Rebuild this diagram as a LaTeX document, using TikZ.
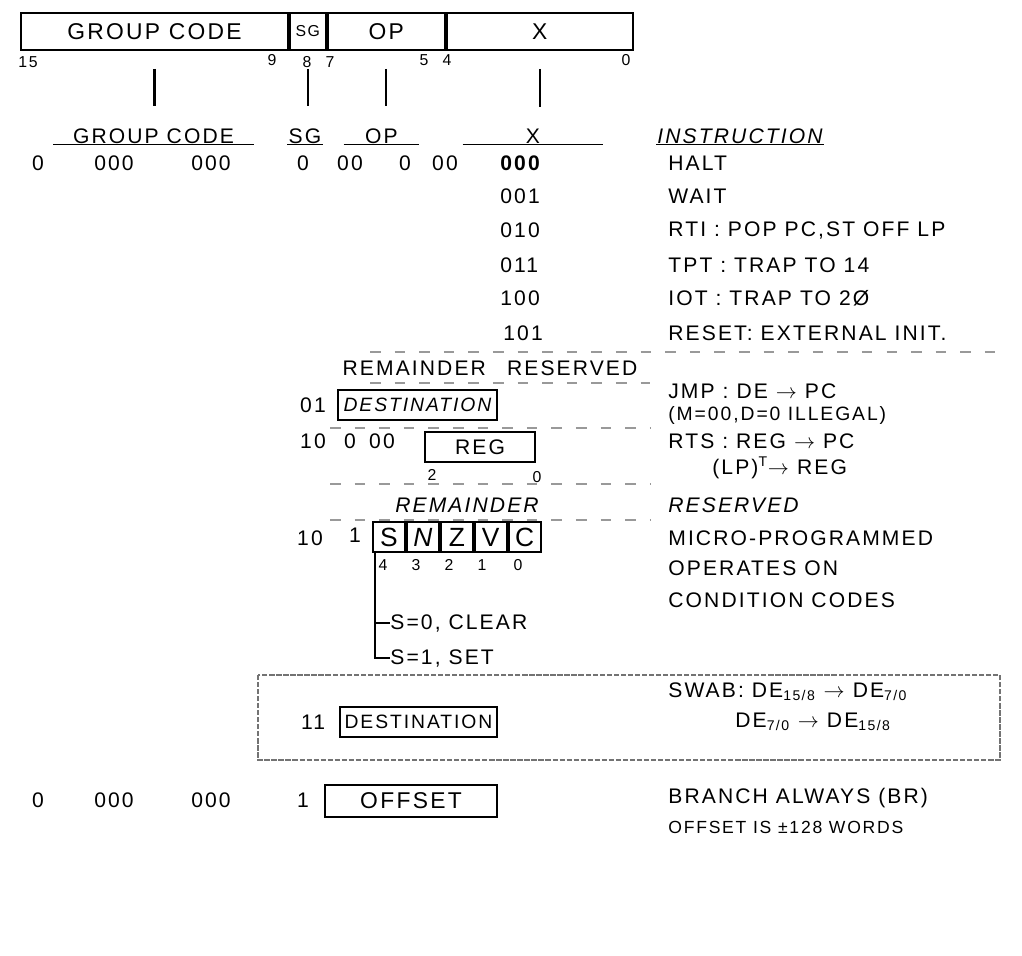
\documentclass[tikz,border=0pt]{standalone}
\usepackage{fontspec}
\setmainfont{Liberation Sans}[LetterSpace=10]
\usetikzlibrary{positioning}

\begin{document}
\begin{tikzpicture}[x=0.02cm, y=-0.02cm,
    field/.style={draw, rectangle, line width=1.1pt, inner sep=0pt, minimum height=0.74cm, font=\fontsize{13}{15}\selectfont},
    box/.style={draw, rectangle, line width=1.1pt, inner sep=0pt, minimum height=0.6cm, font=\fontsize{12}{14}\selectfont},
    bitbox/.style={box, minimum width=0.64cm, font=\fontsize{15}{17}\selectfont},
    bitnum/.style={inner sep=0pt, font=\fontsize{9}{11}\selectfont},
    head/.style={inner sep=0.5pt, font=\fontsize{12}{14}\selectfont},
    val/.style={inner sep=0pt, font=\fontsize{12}{14}\selectfont},
    instr/.style={anchor=west, inner sep=0pt, font=\fontsize{12}{14}\selectfont},
    guide/.style={black!40, line width=0.6pt, dash pattern=on 6pt off 8pt},
    link/.style={line width=1.3pt}
]
\useasboundingbox (0,0) rectangle (1022,956);

% instruction word
\node[field, minimum width=5.34cm, anchor=west] (gcf) at (20,31.5) {GROUP CODE};
\node[field, minimum width=0.72cm, right=0pt of gcf, font=\fontsize{9}{11}\selectfont] (sgf) {SG};
\node[field, minimum width=2.34cm, right=0pt of sgf] (opf) {OP};
\node[field, minimum width=3.72cm, right=0pt of opf] (xf) {X};

\node[bitnum] (b15) at (28,62) {15};
\node[bitnum] (b9) at (272,60) {9};
\node[bitnum] (b8) at (307,62) {8};
\node[bitnum] (b7) at (330,62) {7};
\node[bitnum] (b5) at (424,60) {5};
\node[bitnum] (b4) at (447,60) {4};
\node[bitnum] (b0) at (626,60) {0};

% column heads
\node[head, minimum width=4cm] (hgc) at (153.5,136) {GROUP CODE};
\node[head, minimum width=0.6cm] (hsg) at (305,136) {SG};
\node[head, minimum width=1.5cm] (hop) at (381.5,136) {OP};
\node[head, minimum width=2.8cm] (hx) at (533,136) {X};
\node[head, minimum width=2.9cm, font=\fontsize{12}{14}\selectfont\itshape] (hin) at (740,136) {INSTRUCTION};
\foreach \h in {hgc,hsg,hop,hx,hin}
    \draw[line width=0.8pt] (\h.south west) -- (\h.south east);
\foreach \f/\h in {gcf/hgc, sgf/hsg, opf/hop, xf/hx}
    \draw[link, shorten <=0.36cm, shorten >=0.42cm] (\f.south) -- (\f.south |- \h.north);

% group 0, op 0
\foreach \x/\t [count=\i] in {38/0, 114/000, 211/000, 303/0, 350/00, 405/0, 445/00}
    \node[val] (z\i) at (\x,163) {\t};
\node[val, anchor=west, font=\fontsize{12}{14}\selectfont\bfseries] (x0) at (500,163) {000};
\node[val, anchor=west] (x1) at (500,196) {001};
\node[val, anchor=west] (x2) at (500,230) {010};
\node[val, anchor=west] (x3) at (500,265) {011};
\node[val, anchor=west] (x4) at (500,298) {100};
\node[val, anchor=west] (x5) at (503,333) {101};
\node[instr] (halt) at (668,163) {HALT};
\node[instr] (wait) at (668,196) {WAIT};
\node[instr] (rti) at (668,230) {RTI : POP PC,ST OFF LP};
\node[instr] (tpt) at (668,265) {TPT : TRAP TO 14};
\node[instr] (iot) at (668,298) {IOT : TRAP TO 2\O};
\node[instr] (reset) at (668,333) {RESET: EXTERNAL INIT.};

\draw[guide] (370,352) -- (1000,352);
\node[val] (rem1) at (490,368) {REMAINDER\quad RESERVED};
\draw[guide] (370,383) -- (650,383);

% jmp / rts
\node[val] (c01) at (313,405) {01};
\node[box, minimum width=3.18cm, font=\fontsize{11}{13}\selectfont\itshape] (dst1) at (417.5,405) {DESTINATION};
\node[instr] (jmp) at (668,391) {JMP : DE $\rightarrow$ PC};
\node[instr, font=\fontsize{11}{13}\selectfont] (jmpx) at (668,415) {(M=00,D=0 ILLEGAL)};
\draw[guide] (330,428) -- (650,428);

\node[val] (c10a) at (313,441) {10};
\node[val] (c0a) at (350,441) {0};
\node[val] (c00a) at (382,441) {00};
\node[box, minimum width=2.2cm] (reg) at (480,447) {REG};
\node[bitnum] (r2) at (432,475) {2};
\node[bitnum] (r0) at (537,477) {0};
\node[instr] (rts) at (668,441) {RTS : REG $\rightarrow$ PC};
\node[instr] (rtsx) at (712,468) {(LP)\textsuperscript{T}$\rightarrow$ REG};
\draw[guide] (330,484) -- (650,484);

\node[val, font=\fontsize{12}{14}\selectfont\itshape] (rem2) at (467,505) {REMAINDER};
\node[instr, font=\fontsize{12}{14}\selectfont\itshape] (res2) at (668,505) {RESERVED};
\draw[guide] (330,520) -- (650,520);

% condition codes
\node[val] (c10b) at (310,538) {10};
\node[val] (c1b) at (355,535) {1};
\node[bitbox] (sb) at (389,537) {S};
\node[bitbox, right=0pt of sb] (nb) {\itshape N};
\node[bitbox, right=0pt of nb] (zb) {Z};
\node[bitbox, right=0pt of zb] (vb) {V};
\node[bitbox, right=0pt of vb] (cb) {C};
\node[bitnum] (s4) at (383,565) {4};
\node[bitnum] (s3) at (416,565) {3};
\node[bitnum] (s2) at (449,565) {2};
\node[bitnum] (s1) at (482,565) {1};
\node[bitnum] (s0) at (518,565) {0};
\node[instr] (micro) at (668,538) {MICRO-PROGRAMMED};
\node[instr] (opon) at (668,568) {OPERATES ON};
\node[instr] (ccod) at (668,600) {CONDITION CODES};

\coordinate (sdrop) at ([xshift=0.06cm]sb.south west);
\node[instr] (sclr) at (390,623) {S=0, CLEAR};
\node[instr] (sset) at (390,658) {S=1, SET};
\draw[line width=1pt] (sdrop) |- (sset.west);
\draw[line width=1pt] (sdrop |- sclr.west) -- (sclr.west);

% swab
\draw[black!55, line width=0.9pt, dash pattern=on 3pt off 1pt] (258,675) rectangle (1000,760);
\node[val] (c11) at (313,722) {11};
\node[box, minimum width=3.14cm, font=\fontsize{11}{13}\selectfont] (dst2) at (418.5,722) {DESTINATION};
\node[instr] (swab) at (668,692) {SWAB: DE\textsubscript{15/8} $\rightarrow$ DE\textsubscript{7/0}};
\node[instr] (swabx) at (735,722) {DE\textsubscript{7/0} $\rightarrow$ DE\textsubscript{15/8}};

% branch
\foreach \x/\t [count=\i] in {38/0, 114/000, 211/000, 303/1}
    \node[val] (w\i) at (\x,800) {\t};
\node[box, minimum width=3.44cm, minimum height=0.64cm, font=\fontsize{13}{15}\selectfont] (offs) at (411,801) {OFFSET};
\node[instr] (br) at (668,798) {BRANCH ALWAYS (BR)};
\node[instr, font=\fontsize{10}{12}\selectfont] (brx) at (668,827) {OFFSET IS ±128 WORDS};
\end{tikzpicture}
\end{document}
